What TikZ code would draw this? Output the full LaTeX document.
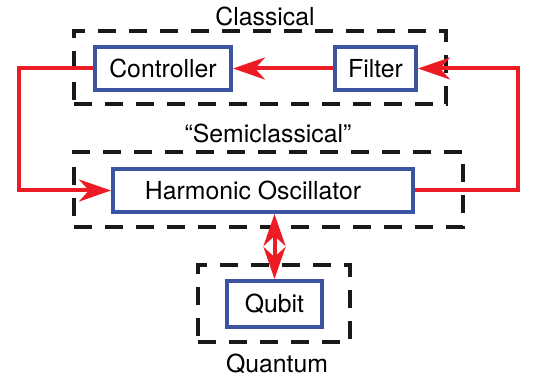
\documentclass[tikz,border=0pt]{standalone}
\usepackage{fontspec}
\setmainfont{TeX Gyre Heros}
\usetikzlibrary{arrows.meta}
\definecolor{boxblue}{RGB}{59,83,163}
\definecolor{loopred}{RGB}{237,28,36}

\begin{document}
\begin{tikzpicture}[x=0.5pt,y=-0.5pt,
        font=\fontsize{12.4}{14}\selectfont,
        block/.style={draw=boxblue,line width=2pt,fill=white,inner sep=0pt},
        region/.style={draw=black!90,line width=2pt,dash pattern=on 9pt off 6.5pt,inner sep=0pt},
        signal/.style={draw=loopred,line width=2pt,
            -{Stealth[length=16pt,width=11pt,inset=5pt]}}]
        \useasboundingbox (0,0) rectangle (533,384);
        % dashed regions
        \node[region,minimum width=186pt,minimum height=36.5pt] (classical) at (260,68) {};
        \node[region,minimum width=194.5pt,minimum height=37.5pt] (semi) at (268.5,189.5) {};
        \node[region,minimum width=76pt,minimum height=38.5pt] (quantum) at (274,303.5) {};
        \node (classlabel) at (265,16) {Classical};
        \node (semilabel) at (268,133) {``Semiclassical''};
        \node (quantlabel) at (277,364) {Quantum};
        % blocks
        \node[block,minimum width=68pt,minimum height=21.5pt] (ctrl) at (163,68.5) {Controller};
        \node[block,minimum width=40.5pt,minimum height=21.5pt] (filter) at (375.5,68.5) {Filter};
        \node[block,minimum width=150pt,minimum height=21.5pt] (ho) at (263,190.5) {\raisebox{-2pt}{Harmonic Oscillator\hspace{10pt}}};
        \node[block,minimum width=47.5pt,minimum height=23pt] (qubit) at (274.5,304) {Qubit};
        % feedback loop
        \coordinate (rloop) at (518,68.5);
        \coordinate (lloop) at (19,68.5);
        \draw[signal] (filter.west) -- (ctrl.east);
        \draw[signal] (ho.east) -| (rloop) -- (filter.east);
        \draw[signal] (ctrl.west) -- (lloop) |- (ho.west);
        \draw[signal,{Stealth[length=16pt,width=11pt,inset=5pt]}-{Stealth[length=16pt,width=11pt,inset=5pt]}]
            (qubit.north |- ho.south) -- (qubit.north);
\end{tikzpicture}
\end{document}
